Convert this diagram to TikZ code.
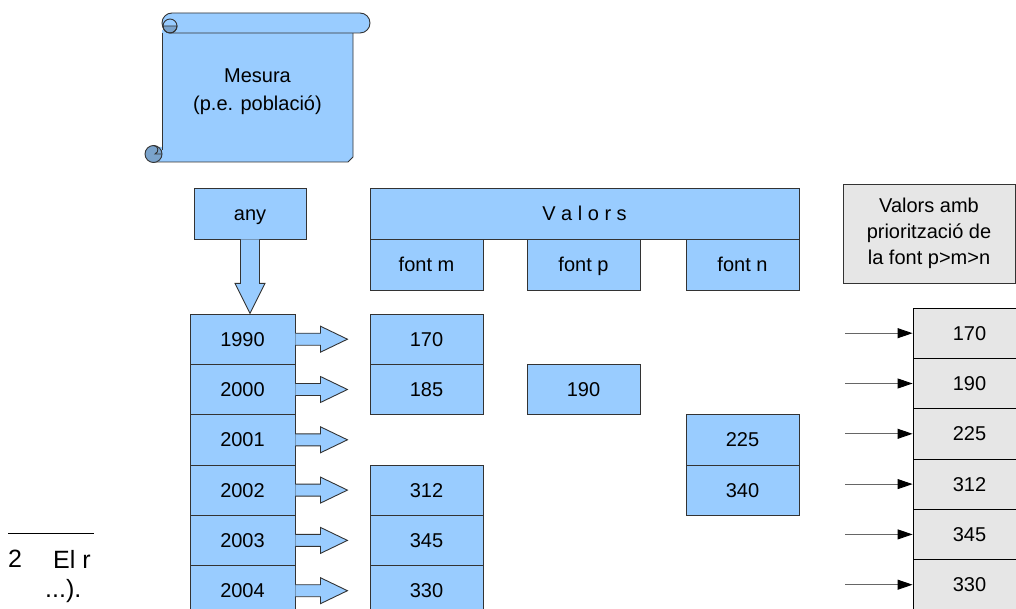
\documentclass[tikz,border=0pt]{standalone}
\usepackage{fontspec}
\setmainfont{Liberation Sans}
\usetikzlibrary{calc,arrows.meta}
\definecolor{cellblue}{HTML}{99CCFF}
\definecolor{curlblue}{HTML}{7AA3CC}
\definecolor{cellgray}{HTML}{E6E6E6}
\definecolor{edge}{HTML}{333333}
\begin{document}
\begin{tikzpicture}[x=1pt,y=-1pt,
  every node/.style={font=\fontsize{20}{26}\selectfont, inner sep=0pt},
  cell/.style={draw=edge, fill=cellblue, line width=0.9pt, minimum height=50.3pt, text height=14pt, text depth=0pt},
  headcell/.style={cell, minimum height=51pt},
  yearcell/.style={cell, minimum width=105pt},
  valcell/.style={cell, minimum width=113pt},
  outcell/.style={draw=black, fill=cellgray, line width=0.9pt, minimum width=113pt, minimum height=50.3pt, text height=14pt, text depth=0pt},
  blockarrow/.style={draw=edge, fill=cellblue, line width=0.9pt, line join=miter},
  feed/.style={draw=black!60, line width=0.9pt, -{Triangle[length=15pt,width=10pt,fill=black,color=black]}},
  scrollline/.style={draw=edge, line width=0.9pt},
  footfont/.style={font=\fontsize{25}{28}\selectfont}
]
\useasboundingbox (0,0) rectangle (1016,609);
\clip (0,0) rectangle (1016,609);

% scroll holding the measure
\path[fill=cellblue] (162,30) -- (353,30) -- (353,157) -- (348,162) -- (152,162) -- (152,147) -- (162,147) -- cycle;
\draw[scrollline] (162,33) -- (162,150);
\draw[scrollline] (353,33) -- (353,157) -- (348,162) -- (153,162);
\draw[scrollline, fill=cellblue, rounded corners=10] (162,13) rectangle (370,33);
\draw[scrollline, fill=curlblue] (163,26) arc[start angle=180, end angle=0, radius=7] -- cycle;
\draw[scrollline] (170,26) circle (7);
\draw[scrollline, fill=curlblue] (153.5,154) circle (8.5);
\draw[scrollline] (153.5,145.5) .. controls (158.5,145.5) and (159.5,152) .. (155,154) -- (162,154);
\node[font=\fontsize{20}{28}\selectfont, align=center] (mesura) at (257.5,92) {Mesura\\(p.e. població)};

% column headers
\node[headcell, minimum width=112pt] (any) at (250,213.5) {any};
\node[headcell, minimum width=429pt] (valors) at (584.5,213.5) {V a l o r s};
\node[headcell, minimum width=113pt] (fontm) at (426.5,264.5) {font m};
\node[headcell, minimum width=113pt] (fontp) at (583.5,264.5) {font p};
\node[headcell, minimum width=113pt] (fontn) at (742.5,264.5) {font n};
\node[draw=edge, fill=cellgray, line width=0.9pt, minimum width=172pt, minimum height=99pt, align=center] (prio) at (929,233.5) {Valors amb\\priorització de\\la font p>m>n};

% year column
\node[yearcell] (y1990) at (242.5,339.2) {1990};
\node[yearcell] (y2000) at (242.5,389.5) {2000};
\node[yearcell] (y2001) at (242.5,439.8) {2001};
\node[yearcell] (y2002) at (242.5,490.1) {2002};
\node[yearcell] (y2003) at (242.5,540.4) {2003};
\node[yearcell] (y2004) at (242.5,590.7) {2004};

% arrow from the year header down to the years
\draw[blockarrow] ($(any.south)+(-9.5,0)$) -- ++(0,44) -- ++(-5.5,0) -- ++(15,30) -- ++(15,-30) -- ++(-5.5,0) -- ++(0,-44);

% arrows from every year to its values
\foreach \n in {1990,2000,2001,2002,2003,2004}
  \draw[blockarrow] ($(y\n.east)+(0,-6)$) -- ++(25,0) -- ++(0,-7) -- ++(27,13) -- ++(-27,13) -- ++(0,-7) -- ++(-25,0);

% values per source
\node[valcell] (m1990) at (426.5,339.2) {170};
\node[valcell] (m2000) at (426.5,389.5) {185};
\node[valcell] (m2002) at (426.5,490.1) {312};
\node[valcell] (m2003) at (426.5,540.4) {345};
\node[valcell] (m2004) at (426.5,590.7) {330};
\node[valcell] (p2000) at (583.5,389.5) {190};
\node[valcell] (n2001) at (742.5,439.8) {225};
\node[valcell] (n2002) at (742.5,490.1) {340};

% prioritised values
\node[outcell] (o1) at (969.5,333.2) {170};
\node[outcell] (o2) at (969.5,383.5) {190};
\node[outcell] (o3) at (969.5,433.8) {225};
\node[outcell] (o4) at (969.5,484.1) {312};
\node[outcell] (o5) at (969.5,534.4) {345};
\node[outcell] (o6) at (969.5,584.7) {330};
\foreach \i/\yy in {1/333.2,2/383.5,3/433.8,4/484.1,5/534.4,6/584.7} {
  \coordinate (f\i) at (845,\yy);
  \draw[feed] (f\i) -- (o\i.west);
}

% footnote fragment
\draw[black, line width=1pt] (8,533) -- (94,533);
\node[footfont, anchor=west] (fnnum) at (8,559) {2};
\node[footfont, anchor=west] (fntext) at (53,559) {El r};
\node[footfont, anchor=west] (fncont) at (45,591) {...).};
\end{tikzpicture}
\end{document}
